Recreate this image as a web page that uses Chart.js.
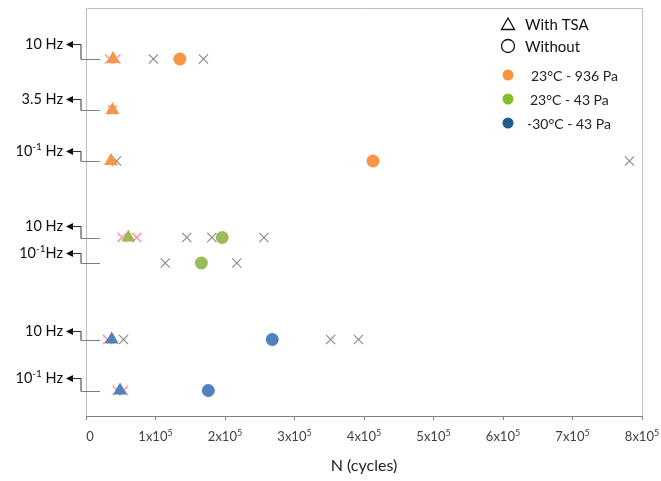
<!DOCTYPE html>
<html>
<head>
<meta charset="utf-8">
<script src="https://cdn.jsdelivr.net/npm/chart.js@4/dist/chart.umd.min.js"></script>
<style>
  html, body { margin: 0; padding: 0; background: #fff; }
  #wrap { width: 661px; height: 481px; }
</style>
</head>
<body>
<div id="wrap"><canvas id="fatigueChart"></canvas></div>
<script>
// rows of the test matrix (top to bottom), y level on a hidden 0..16 scale
const rowLevels = [14, 12, 10, 7, 6, 3, 1];
const rowFreq = [['10', '', ' Hz'], ['3.5', '', ' Hz'], ['10', '-1', ' Hz'], ['10', '', ' Hz'],
                 ['10', '-1', 'Hz'], ['10', '', ' Hz'], ['10', '-1', ' Hz']];
const rowGroup = [0, 0, 0, 1, 1, 2, 2];   // 0: 23°C-936Pa, 1: 23°C-43Pa, 2: -30°C-43Pa

// N in units of 1e5 cycles
const tsaMean = [0.39, 0.38, 0.36, 0.61, null, 0.37, 0.49];
const tsaRuns = [[0.34, 0.43], [0.38], [], [0.52, 0.73], [], [0.31], [0.45, 0.54]];
const plainMean = [1.35, null, 4.13, 1.96, 1.66, 2.68, 1.76];
const plainRuns = [[0.97, 1.69], [], [0.44, 7.82], [1.45, 1.81, 2.56], [1.14, 2.17], [0.54, 3.52, 3.92], []];

const xTicks = [0, 1, 2, 3, 4, 5, 6, 7, 8];
const groupNames = ['23°C - 936 Pa', '23°C - 43 Pa', '-30°C - 43 Pa'];

const groupColors = ['#F79646', '#9BBB59', '#4F81BD'];
const legendColors = ['#F7963F', '#86BC25', '#1F5C8B'];
const labelLift = [15, 11, 10, 12, 10, 9, 13];
const FONT = 'Lato, "Open Sans", sans-serif';

function pts(rows, pick) {
  const out = [];
  rows.forEach((v, i) => {
    if (!pick(i)) return;
    [].concat(v).forEach(n => { if (n !== null) out.push({ x: n * 1e5, y: rowLevels[i] }); });
  });
  return out;
}

const datasets = [];
groupColors.forEach((c, g) => {
  datasets.push({
    label: groupNames[g] + ' TSA', data: pts(tsaMean, i => rowGroup[i] === g),
    pointStyle: 'triangle', pointRadius: 8, backgroundColor: c, borderColor: c, borderWidth: 0, order: 1
  });
  datasets.push({
    label: groupNames[g], data: pts(plainMean, i => rowGroup[i] === g),
    pointStyle: 'circle', pointRadius: 6.5, backgroundColor: c, borderColor: c, borderWidth: 0, order: 1
  });
});
datasets.push({
  label: 'TSA runs', data: pts(tsaRuns, () => true),
  pointStyle: 'crossRot', pointRadius: 6.5, borderColor: '#FF9AA8', borderWidth: 1.5, order: 3
});
datasets.push({
  label: 'runs', data: pts(plainRuns, () => true),
  pointStyle: 'crossRot', pointRadius: 6.5, borderColor: '#8C8C8C', borderWidth: 1.2, order: 2
});

// text with an optional superscript: parts = [base, sup, rest]
function drawRich(ctx, parts, x, y, size, align) {
  const base = size + 'px ' + FONT, sup = Math.round(size * 0.7) + 'px ' + FONT;
  ctx.font = base; const w0 = ctx.measureText(parts[0]).width, w2 = ctx.measureText(parts[2]).width;
  ctx.font = sup; const w1 = parts[1] ? ctx.measureText(parts[1]).width : 0;
  const w = w0 + w1 + w2;
  x = align === 'center' ? x - w / 2 : x - w;
  ctx.textAlign = 'left'; ctx.textBaseline = 'middle';
  ctx.font = base; ctx.fillText(parts[0], x, y); x += w0;
  if (parts[1]) { ctx.font = sup; ctx.fillText(parts[1], x, y - size * 0.32); x += w1; }
  ctx.font = base; ctx.fillText(parts[2], x, y);
}

const framePlugin = {
  id: 'frame',
  beforeDatasetsDraw(chart) {
    const { ctx, chartArea: a } = chart;
    ctx.save();
    ctx.strokeStyle = '#BFBFBF'; ctx.lineWidth = 1;
    ctx.beginPath();
    ctx.moveTo(a.left + 0.5, a.bottom); ctx.lineTo(a.left + 0.5, a.top + 0.5);
    ctx.lineTo(a.right + 0.5, a.top + 0.5); ctx.lineTo(a.right + 0.5, a.bottom);
    ctx.stroke();
    ctx.restore();
  },
  afterDraw(chart) {
    const { ctx, chartArea: a } = chart;
    const ys = chart.scales.y, xs = chart.scales.x;
    ctx.save();
    // x tick labels (n x 10^5)
    ctx.fillStyle = '#404040';
    xTicks.forEach(t => {
      const px = xs.getPixelForValue(t * 1e5) + (t === 0 ? 4 : 0);
      drawRich(ctx, t === 0 ? ['0', '', ''] : [t + 'x10', '5', ''], px, a.bottom + 21, 13, 'center');
    });
    // frequency labels with bracket arrows
    rowLevels.forEach((lv, i) => {
      const yr = Math.round(ys.getPixelForValue(lv)) + 0.5;
      const yl = yr - labelLift[i];
      const tip = a.left - 20, bx = a.left - 5, ex = a.left + 14;
      ctx.fillStyle = '#111';
      drawRich(ctx, rowFreq[i], tip - 3, yl, 14.5, 'right');
      ctx.beginPath();
      ctx.moveTo(tip, yl); ctx.lineTo(tip + 7, yl - 3.5); ctx.lineTo(tip + 7, yl + 3.5); ctx.closePath();
      ctx.fill();
      ctx.strokeStyle = '#333'; ctx.lineWidth = 1;
      ctx.beginPath();
      ctx.moveTo(tip + 6, yl); ctx.lineTo(bx, yl); ctx.lineTo(bx, yr); ctx.stroke();
      ctx.strokeStyle = '#7F7F7F';
      ctx.beginPath(); ctx.moveTo(bx, yr); ctx.lineTo(ex, yr); ctx.stroke();
    });
    // legend
    const lx = a.right - 134;
    ctx.strokeStyle = '#111'; ctx.lineWidth = 1.3;
    ctx.beginPath();
    ctx.moveTo(lx, 18); ctx.lineTo(lx + 6.5, 29.5); ctx.lineTo(lx - 6.5, 29.5); ctx.closePath(); ctx.stroke();
    ctx.beginPath(); ctx.arc(lx, 46, 6.5, 0, Math.PI * 2); ctx.stroke();
    ctx.fillStyle = '#111'; ctx.textAlign = 'left'; ctx.textBaseline = 'middle';
    ctx.font = '15px ' + FONT;
    ctx.fillText('With TSA', lx + 17, 25);
    ctx.fillText('Without', lx + 17, 47);
    const ly = [75, 99, 123], tx = [23, 22, 19];
    groupNames.forEach((n, g) => {
      ctx.fillStyle = legendColors[g];
      ctx.beginPath(); ctx.arc(lx, ly[g], 5.5, 0, Math.PI * 2); ctx.fill();
      ctx.fillStyle = '#222'; ctx.font = '14px ' + FONT;
      ctx.fillText(n, lx + tx[g], ly[g] + 1);
    });
    ctx.restore();
  }
};

new Chart(document.getElementById('fatigueChart'), {
  type: 'scatter',
  data: { datasets },
  options: {
    responsive: true,
    maintainAspectRatio: false,
    animation: false,
    layout: { padding: { left: 86, right: 19, top: 8, bottom: 2 } },
    plugins: { legend: { display: false }, tooltip: { enabled: false } },
    scales: {
      x: {
        type: 'linear', min: 0, max: 8e5,
        afterBuildTicks: s => { s.ticks = xTicks.map(v => ({ value: v * 1e5 })); },
        afterFit: s => { s.height = 63; },
        ticks: { display: false },
        grid: { drawOnChartArea: false, tickLength: 4, color: '#7F7F7F' },
        border: { color: '#7F7F7F' },
        title: { display: true, text: 'N (cycles)', color: '#222', font: { family: FONT, size: 16 }, padding: { top: 10, bottom: 4 } }
      },
      y: { type: 'linear', min: 0, max: 16, display: false }
    }
  },
  plugins: [framePlugin]
});
</script>
</body>
</html>
